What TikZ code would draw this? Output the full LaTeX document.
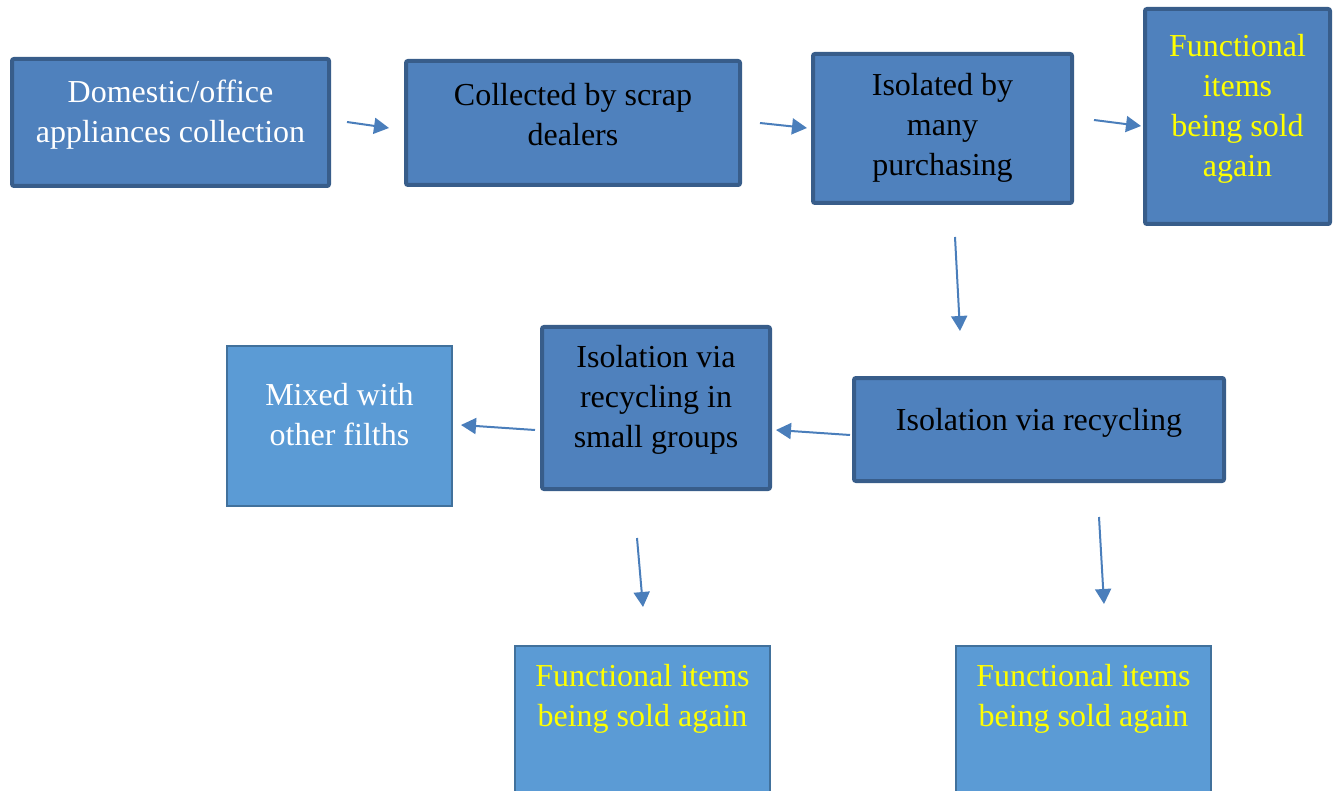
\documentclass[tikz,border=0pt]{standalone}
\usepackage{fontspec}
\setmainfont{Liberation Serif}
\usetikzlibrary{arrows.meta,positioning}

\definecolor{boxfill}{HTML}{4F81BD}
\definecolor{boxline}{HTML}{385D8A}
\definecolor{lightfill}{HTML}{5B9BD5}
\definecolor{lightline}{HTML}{41719C}
\definecolor{arrowblue}{HTML}{4A7EBB}
\definecolor{sellyellow}{HTML}{FFFF00}

\begin{document}
\begin{tikzpicture}[
    x = 0.5pt, y = -0.5pt, % one unit = one pixel of the original
    > = {Triangle[length=7.5pt,width=8pt]}, % arrow head style
    every label/.style = {align=center, font=\fontsize{16}{20}\selectfont, yshift=3.5pt},
    flow/.style = {->, draw=arrowblue, line width=1pt}
    ]

    \tikzset{darkbox/.style={
    draw = boxline,
    line width = 2pt,
    fill = boxfill,
    rounded corners = 1pt
    }}
    \tikzset{lightbox/.style={
    draw = lightline,
    line width = 1pt,
    fill = lightfill
    }}

    \clip (0,0) rectangle (1339,791);

    % top row
    \node[darkbox, minimum width=158.5pt, minimum height=63.5pt,
      label={[text=white, yshift=0.5pt]center:Domestic/office\\appliances collection}] (home) at (170.5,122.5) {};
    \node[darkbox, minimum width=167pt, minimum height=62pt,
      label={[text=black, yshift=0.5pt]center:Collected by scrap\\dealers}] (scrap) at (573,123) {};
    \node[darkbox, minimum width=129.5pt, minimum height=74.5pt,
      label={[text=black, yshift=-3pt]center:Isolated by\\many\\purchasing}] (buy) at (942.5,128.5) {};
    \node[darkbox, minimum width=92.5pt, minimum height=107.5pt,
      label={[text=sellyellow, yshift=0.5pt]center:Functional\\items\\being sold\\again}] (sold1) at (1237.5,116.5) {};

    % middle row
    \node[darkbox, minimum width=185pt, minimum height=51.5pt,
      label={[text=black]center:Isolation via recycling}] (recyc) at (1039,429.5) {};
    \node[darkbox, minimum width=114pt, minimum height=81pt,
      label={[text=black, yshift=0.5pt]center:Isolation via\\recycling in\\small groups}] (small) at (656,408) {};
    \node[lightbox, minimum width=112.5pt, minimum height=80pt,
      label={[text=white, yshift=2pt]center:Mixed with\\other filths}] (mixed) at (339.5,426) {};

    % bottom row
    \node[lightbox, minimum width=127.5pt, minimum height=80pt,
      label={[text=sellyellow, yshift=10pt]center:Functional items\\being sold again}] (sold2) at (642.5,726) {};
    \node[lightbox, minimum width=127.5pt, minimum height=80pt,
      label={[text=sellyellow, yshift=10pt]center:Functional items\\being sold again}] (sold3) at (1083.5,726) {};

    % arrow ends
    \coordinate (a1) at (347,122);  \coordinate (b1) at (389,128);
    \coordinate (a2) at (760,123);  \coordinate (b2) at (807,128);
    \coordinate (a3) at (1094,120); \coordinate (b3) at (1141,126);
    \coordinate (a4) at (955,237);  \coordinate (b4) at (960,331);
    \coordinate (a5) at (850,435);  \coordinate (b5) at (776,430);
    \coordinate (a6) at (535,430);  \coordinate (b6) at (461,425);
    \coordinate (a7) at (637,538);  \coordinate (b7) at (643,607);
    \coordinate (a8) at (1099,517); \coordinate (b8) at (1104,604);

    \draw[flow] (a1) -- (b1);
    \draw[flow] (a2) -- (b2);
    \draw[flow] (a3) -- (b3);
    \draw[flow] (a4) -- (b4);
    \draw[flow] (a5) -- (b5);
    \draw[flow] (a6) -- (b6);
    \draw[flow] (a7) -- (b7);
    \draw[flow] (a8) -- (b8);
\end{tikzpicture}
\end{document}
